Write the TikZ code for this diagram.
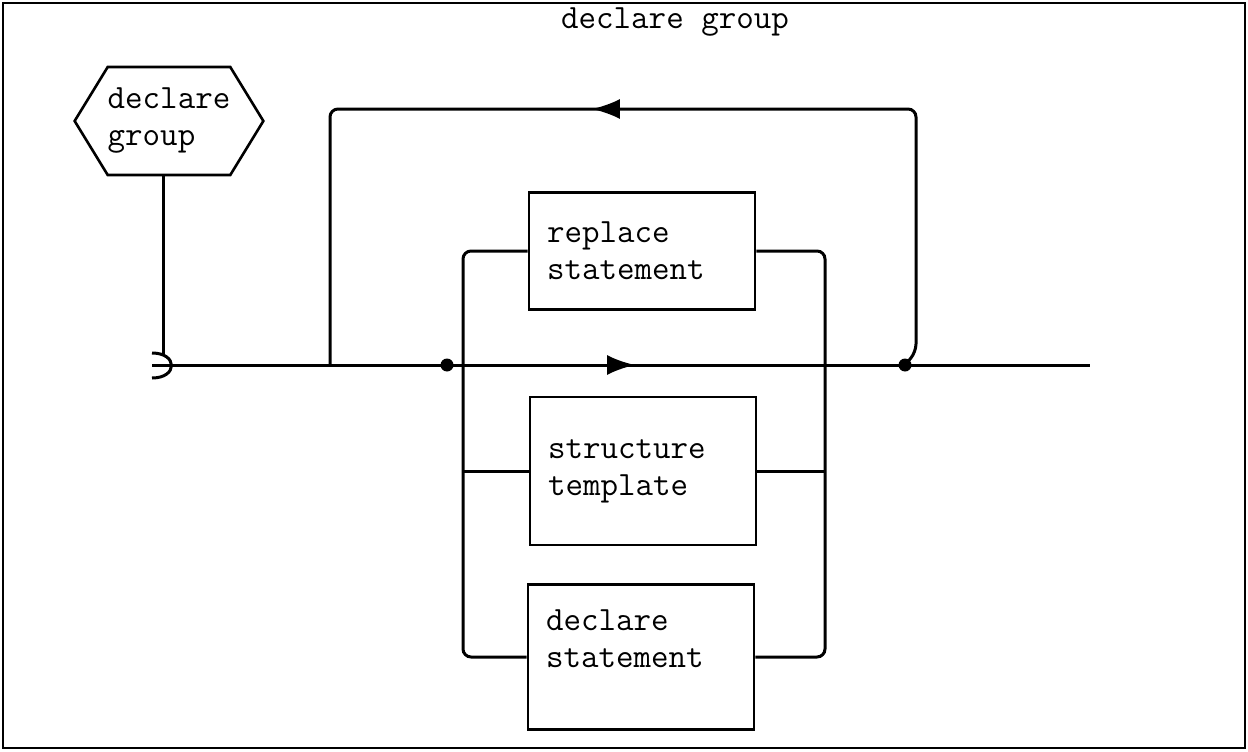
\documentclass[tikz,border=0pt]{standalone}
\usetikzlibrary{shapes.symbols,arrows.meta,decorations.markings,positioning,calc}
\tikzset{
   flow/.style={line width=3pt},
   dot/.style={circle,fill,inner sep=0pt,minimum size=13pt},
   midarrow/.style={postaction={decorate},decoration={markings,
     mark=at position #1 with {\arrow{Latex[length=28pt,width=20pt]}}}},
}
\begin{document}
\begin{tikzpicture}[x=1pt,y=-1pt,
						font=\ttfamily\fontsize{34}{37}\selectfont,
						stmt/.style={draw,line width=2.6pt,minimum width=225pt,
							text width=190pt,align=left,inner xsep=18pt},
						hexa/.style={draw,line width=2.6pt,signal,signal to=west and east,
							signal pointer angle=117,minimum width=182pt,minimum height=108pt,
							inner sep=0pt,align=left}
					]
					\useasboundingbox (0,0) rectangle (1248,752);
					\draw[line width=2pt] (3,3) rectangle (1245,748);
					\node (title) at (675,22) {declare group};

					\node[hexa] (hex) at (169,121) {declare\\group};

					\node[stmt,minimum height=117pt] (rep) at (642,251) {replace\\statement};
					\node[stmt,minimum height=148pt] (str) at (643,471) {structure\\template};
					\node[stmt,minimum height=145pt] (dec) at (641,657) {declare\\statement\\\mbox{}};

					\coordinate (cup) at (152,365);
					\coordinate (lbus) at (463,365);
					\coordinate (rbus) at (825,365);
					\coordinate (back) at (330,365);
					\coordinate (out) at (1090,365);
					\node[dot] (split) at (447,365) {};
					\node[dot] (join) at (905,365) {};

					% entry from the hexagon
					\draw[flow] (hex.south -| 163,0) -- (163,354);
					\draw[flow] (cup) ++(0,-12) .. controls +(26,0) and +(26,0) .. ++(0,25);
					\draw[flow,midarrow=0.515] (cup) -- (join.center) -- (out);

					% repetition loop
					\draw[flow,rounded corners=8pt,midarrow=0.53] (join.center) -- (916,352) -- (916,109) -- (330,109) -- (back);

					% alternatives
					\draw[flow,rounded corners=8pt] (rep.west) -| (lbus) |- (dec.west);
					\draw[flow] (str.west) -- (str.west -| lbus);
					\draw[flow,rounded corners=8pt] (rep.east) -| (rbus) |- (dec.east);
					\draw[flow] (str.east) -- (str.east -| rbus);
				\end{tikzpicture}
\end{document}
